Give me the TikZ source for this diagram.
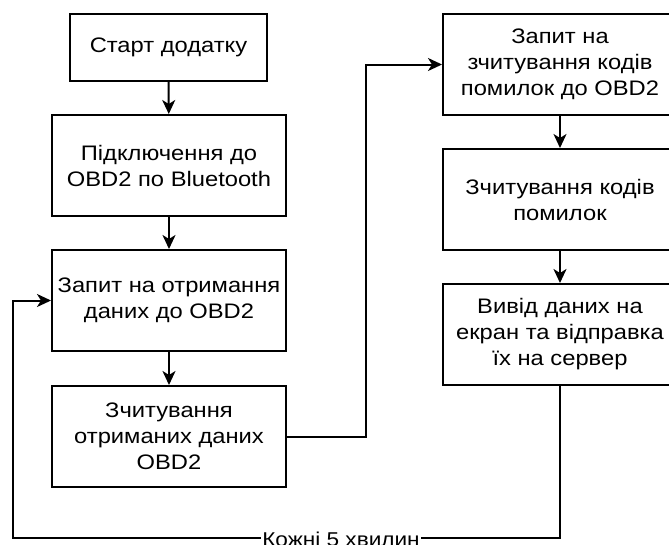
\documentclass[tikz,border=0pt]{standalone}
\usepackage{fontspec}
\setmainfont{Liberation Sans}[FakeStretch=1.13]
\usepackage{tikz}
\usetikzlibrary{positioning}
\usetikzlibrary{arrows.meta}

\begin{document}
\begin{tikzpicture}[x=1pt, y=-1pt,
  stepbox/.style={draw=black, line width=2pt, fill=white, align=center,
    minimum width=234pt, minimum height=101pt, inner sep=0pt,
    font=\fontsize{21pt}{26pt}\selectfont},
  flow/.style={line width=2pt, -{Stealth[length=14pt,width=13pt,inset=4pt]}}]

\useasboundingbox (0,0) rectangle (669,544);

\begin{scope}[xshift=0cm]{
\node[stepbox, minimum width=197pt, minimum height=67pt] (start) at (168.5,47.5) {Старт додатку};
\node[stepbox] (connect) at (169,165.5) {Підключення до\\OBD2 по Bluetooth};
\node[stepbox] (request) at (169,300.5) {Запит на отримання\\даних до OBD2};
\node[stepbox] (readdata) at (169,436.5) {Зчитування\\отриманих даних\\OBD2};

\node[stepbox] (errreq) at (560,64.5) {Запит на\\зчитування кодів\\помилок до OBD2};
\node[stepbox] (errread) at (560,199.5) {Зчитування кодів\\помилок};
\node[stepbox] (output) at (560,334.5) {Вивід даних на\\екран та відправка\\їх на сервер};

\coordinate (loopR) at (560,538);
\coordinate (loopL) at (13,538);
\coordinate (midX) at (366,436.5);

\draw[flow] (start) -- (connect);
\draw[flow] (connect) -- (request);
\draw[flow] (request) -- (readdata);
\draw[flow] (readdata.east) -- (midX) |- (errreq.west);
\draw[flow] (errreq) -- (errread);
\draw[flow] (errread) -- (output);

\draw[flow] (output.south) -- (loopR) -- (loopL) |- (request.west);

\node[fill=white, inner sep=1pt, font=\fontsize{20pt}{24pt}\selectfont] (every) at (341,539) {Кожні 5 хвилин};
} \end{scope}

\end{tikzpicture}
\end{document}
